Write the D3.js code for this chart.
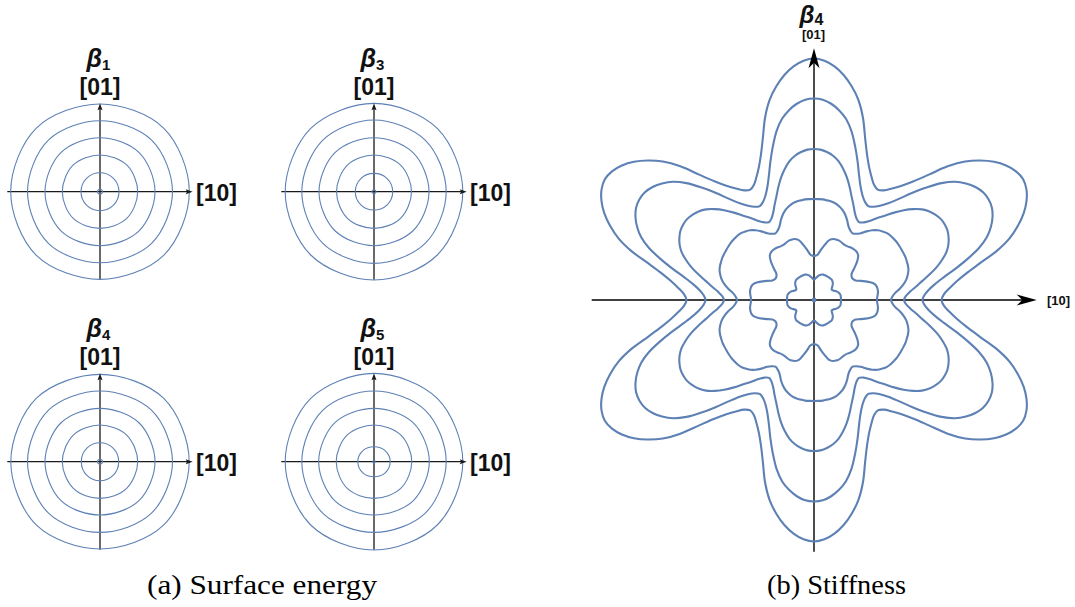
<!DOCTYPE html>
<html>
<head>
<meta charset="utf-8">
<script src="https://cdn.jsdelivr.net/npm/d3@7"></script>
<style>
  html, body { margin: 0; padding: 0; background: #fff; }
  svg { display: block; }
</style>
</head>
<body>
<script>
// ---------------------------------------------------------------
// Data
// ---------------------------------------------------------------

// (a) Surface-energy level sets for four coefficients.
// Each ring is described by its radius along [10] (0°), the diagonal (45°) and [01] (90°).
const surfacePanels = ["β1", "β3", "β4", "β5"];
const surfaceSub = ["1", "3", "4", "5"];
const beta1At0  = [0.893, 0.725, 0.550, 0.377, 0.190, 0.025];
const beta1At45 = [0.900, 0.730, 0.553, 0.378, 0.190, 0.025];
const beta1At90 = [0.877, 0.710, 0.540, 0.367, 0.190, 0.025];
const beta3At0  = [0.888, 0.722, 0.550, 0.375, 0.187, 0.020];
const beta3At45 = [0.895, 0.727, 0.552, 0.376, 0.186, 0.020];
const beta3At90 = [0.883, 0.717, 0.540, 0.367, 0.183, 0.020];
const beta4At0  = [0.892, 0.725, 0.550, 0.377, 0.187, 0.025];
const beta4At45 = [0.898, 0.728, 0.551, 0.377, 0.189, 0.025];
const beta4At90 = [0.873, 0.707, 0.533, 0.367, 0.190, 0.025];
const beta5At0  = [0.888, 0.722, 0.553, 0.378, 0.162, 0.012];
const beta5At45 = [0.895, 0.726, 0.553, 0.378, 0.157, 0.012];
const beta5At90 = [0.883, 0.707, 0.533, 0.367, 0.150, 0.012];

// (b) Stiffness level sets for β4 (six-fold): radius sampled from a lobe axis (0°)
// to the neck half-way to the next lobe (30°).
const stiffnessAngles = [0, 2.5, 5, 7.5, 10, 12.5, 15, 17.5, 20, 22.5, 25, 27.5, 30];
const stiffness1 = [2.415, 2.395, 2.345, 2.270, 2.170, 2.050, 1.890, 1.700, 1.550, 1.440, 1.360, 1.300, 1.275];
const stiffness2 = [2.015, 2.005, 1.970, 1.915, 1.840, 1.730, 1.590, 1.450, 1.320, 1.220, 1.150, 1.105, 1.085];
const stiffness3 = [1.510, 1.505, 1.485, 1.455, 1.410, 1.345, 1.270, 1.185, 1.100, 1.030, 0.965, 0.920, 0.900];
const stiffness4 = [1.010, 1.010, 1.010, 1.005, 1.000, 0.990, 0.970, 0.945, 0.910, 0.865, 0.815, 0.785, 0.770];
const stiffness5 = [0.440, 0.445, 0.460, 0.500, 0.545, 0.590, 0.625, 0.640, 0.645, 0.645, 0.640, 0.633, 0.630];
const stiffness6 = [0.205, 0.210, 0.220, 0.233, 0.245, 0.255, 0.262, 0.267, 0.270, 0.270, 0.270, 0.270, 0.270];
const stiffnessCore = 0.012;
const stiffnessLevels = [stiffness1, stiffness2, stiffness3, stiffness4, stiffness5, stiffness6];

const axisLabels = { x: "[10]", y: "[01]" };
const captions = ["(a) Surface energy", "(b) Stiffness"];

// ---------------------------------------------------------------
// Layout
// ---------------------------------------------------------------
const W = 1075, H = 607;
const curveBlue = "#5e81b5";
const svg = d3.select("body").append("svg")
  .attr("width", W).attr("height", H)
  .attr("viewBox", `0 0 ${W} ${H}`);

const rad = d => d * Math.PI / 180;

// Arrowhead with a notched back, tip at the origin pointing along +x
function arrowPath(len, width, notch) {
  return `M0,0 L${-len},${-width / 2} L${-len * notch},0 L${-len},${width / 2} Z`;
}

// ---------------------------------------------------------------
// (a) four small panels
// ---------------------------------------------------------------
const panelCenters = [[100, 191.7], [374, 191.7], [100, 461.7], [374, 461.7]];
const ringSets = [
  [beta1At0, beta1At45, beta1At90],
  [beta3At0, beta3At45, beta3At90],
  [beta4At0, beta4At45, beta4At90],
  [beta5At0, beta5At45, beta5At90]
];

surfacePanels.forEach((name, p) => {
  const [cx, cy] = panelCenters[p];
  const x = d3.scaleLinear().domain([-1, 1]).range([cx - 100, cx + 100]);
  const y = d3.scaleLinear().domain([-1, 1]).range([cy + 100, cy - 100]);
  const g = svg.append("g");

  const [r0, r45, r90] = ringSets[p];
  const ringLine = d3.line()
    .x(d => x(d[0])).y(d => y(d[1]))
    .curve(d3.curveCatmullRomClosed.alpha(0.5));

  const rings = r0.map((_, i) => {
    const byAngle = [r0[i], r45[i], r90[i], r45[i], r0[i], r45[i], r90[i], r45[i]];
    return byAngle.map((r, k) => [r * Math.cos(rad(45 * k)), r * Math.sin(rad(45 * k))]);
  });

  // axes
  const axColor = "#1a1a1a";
  g.append("line")
    .attr("x1", x(-0.927)).attr("x2", x(0.90))
    .attr("y1", y(0)).attr("y2", y(0))
    .attr("stroke", axColor).attr("stroke-width", 1.3);
  g.append("line")
    .attr("x1", x(0)).attr("x2", x(0))
    .attr("y1", y(-0.88)).attr("y2", y(0.85))
    .attr("stroke", axColor).attr("stroke-width", 1.3);

  g.selectAll("path.ring").data(rings).join("path")
    .attr("class", "ring")
    .attr("d", ringLine)
    .attr("fill", "none")
    .attr("stroke", curveBlue)
    .attr("stroke-width", 1.1);

  g.append("path")
    .attr("d", arrowPath(7, 5, 0.8))
    .attr("transform", `translate(${x(0.927)},${y(0)})`)
    .attr("fill", axColor);
  g.append("path")
    .attr("d", arrowPath(7, 5, 0.8))
    .attr("transform", `translate(${x(0)},${y(0.884)}) rotate(-90)`)
    .attr("fill", axColor);

  // labels
  g.append("text")
    .attr("x", cx + 96).attr("y", cy + 9.5)
    .attr("font-family", "Liberation Sans, Arial, sans-serif")
    .attr("font-weight", "bold").attr("font-size", 23)
    .attr("fill", "#111")
    .text(axisLabels.x);
  g.append("text")
    .attr("x", cx).attr("y", cy - 96.5)
    .attr("text-anchor", "middle")
    .attr("font-family", "Liberation Sans, Arial, sans-serif")
    .attr("font-weight", "bold").attr("font-size", 23)
    .attr("fill", "#111")
    .text(axisLabels.y);
  const t = g.append("text")
    .attr("x", cx - 13.5).attr("y", cy - 124.5)
    .attr("font-family", "Liberation Sans, Arial, sans-serif")
    .attr("font-weight", "bold").attr("fill", "#111");
  t.append("tspan").attr("font-style", "italic").attr("font-size", 25).text("β");
  t.append("tspan").attr("font-size", 15).attr("dy", 3).text(surfaceSub[p]);
});

// ---------------------------------------------------------------
// (b) stiffness panel
// ---------------------------------------------------------------
{
  const cx = 814, cy = 300;
  const x = d3.scaleLinear().domain([-2.5, 2.5]).range([cx - 250, cx + 250]);
  const y = d3.scaleLinear().domain([-2.5, 2.5]).range([cy + 250, cy - 250]);
  const g = svg.append("g");

  // six lobes at 30°, 90°, 150°, ... ; each sector mirrors the sampled profile
  function sixFold(radii) {
    const pts = [];
    for (let k = 0; k < 6; k++) {
      const axisDeg = 90 + 60 * k;
      for (let j = -12; j < 12; j++) {
        const idx = Math.abs(j);
        const th = rad(axisDeg + Math.sign(j) * stiffnessAngles[idx]);
        pts.push([radii[idx] * Math.cos(th), radii[idx] * Math.sin(th)]);
      }
    }
    return pts;
  }

  const line = d3.line()
    .x(d => x(d[0])).y(d => y(d[1]))
    .curve(d3.curveCatmullRomClosed.alpha(0.5));

  // axes
  g.append("line")
    .attr("x1", x(-2.223)).attr("x2", x(2.10))
    .attr("y1", y(0)).attr("y2", y(0))
    .attr("stroke", "#000").attr("stroke-width", 1.4);
  g.append("line")
    .attr("x1", x(0)).attr("x2", x(0))
    .attr("y1", y(-2.517)).attr("y2", y(2.40))
    .attr("stroke", "#000").attr("stroke-width", 1.4);

  g.selectAll("path.level").data(stiffnessLevels).join("path")
    .attr("class", "level")
    .attr("d", d => line(sixFold(d)))
    .attr("fill", "none")
    .attr("stroke", curveBlue)
    .attr("stroke-width", 2.1);

  g.append("circle")
    .attr("cx", x(0)).attr("cy", y(0))
    .attr("r", x(stiffnessCore) - x(0))
    .attr("fill", "none")
    .attr("stroke", curveBlue)
    .attr("stroke-width", 2.4);

  g.append("path")
    .attr("d", arrowPath(20, 11, 0.72))
    .attr("transform", `translate(${x(2.227)},${y(0)})`)
    .attr("fill", "#000");
  g.append("path")
    .attr("d", arrowPath(20, 11, 0.72))
    .attr("transform", `translate(${x(0)},${y(2.517)}) rotate(-90)`)
    .attr("fill", "#000");

  g.append("text")
    .attr("x", cx + 233).attr("y", cy + 5)
    .attr("font-family", "Liberation Sans, Arial, sans-serif")
    .attr("font-weight", "bold").attr("font-size", 13)
    .attr("fill", "#111")
    .text(axisLabels.x);
  g.append("text")
    .attr("x", cx - 0.5).attr("y", cy - 261)
    .attr("text-anchor", "middle")
    .attr("font-family", "Liberation Sans, Arial, sans-serif")
    .attr("font-weight", "bold").attr("font-size", 13)
    .attr("fill", "#111")
    .text(axisLabels.y);
  const t = g.append("text")
    .attr("x", cx - 14.5).attr("y", cy - 277.5)
    .attr("font-family", "Liberation Sans, Arial, sans-serif")
    .attr("font-weight", "bold").attr("fill", "#111");
  t.append("tspan").attr("font-style", "italic").attr("font-size", 24).text("β");
  t.append("tspan").attr("font-size", 16).attr("dy", 2.5).text("4");
}

// ---------------------------------------------------------------
// captions
// ---------------------------------------------------------------
svg.selectAll("text.caption").data(captions).join("text")
  .attr("class", "caption")
  .attr("x", (d, i) => i === 0 ? 262 : 836.5)
  .attr("y", 594)
  .attr("text-anchor", "middle")
  .attr("font-family", "Liberation Serif, Times New Roman, serif")
  .attr("font-size", 28)
  .attr("fill", "#000")
  .attr("textLength", (d, i) => i === 0 ? 230 : 139)
  .attr("lengthAdjust", "spacingAndGlyphs")
  .text(d => d);
</script>
</body>
</html>
